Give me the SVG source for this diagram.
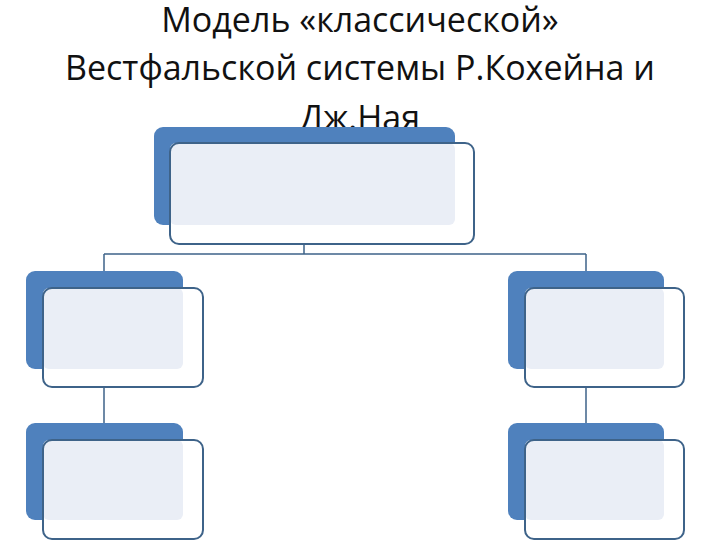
<svg xmlns="http://www.w3.org/2000/svg" width="720" height="540" viewBox="0 0 720 540">
<style>
.t{font-family:"Open Sans","Liberation Sans",sans-serif;font-size:34px;fill:#111;text-anchor:middle}
.b{fill:#4f81bd}
.f{fill:#eaeef6}
.o{fill:none;stroke:#3e6389;stroke-width:2}
.c{fill:none;stroke:#3e6389;stroke-width:1.5}
</style>
<rect width="720" height="540" fill="#fff"/>
<text class="t" x="360" y="32">Модель «классической»</text>
<text class="t" x="360" y="80">Вестфальской системы Р.Кохейна и</text>
<text class="t" x="360" y="130">Дж.Ная</text>
<g id="connectors">
<path class="c" d="M304 244V254M104 254H586M104 254V271M586 254V271M104 387V423M586 387V423"/>
</g>
<g id="top">
<rect class="b" x="154" y="127" width="301" height="98" rx="9"/>
<rect x="170" y="143" width="304" height="101" rx="9" fill="#fff"/>
<rect class="f" x="170" y="143" width="285" height="82" rx="6"/>
<rect class="o" x="170" y="143" width="304" height="101" rx="9"/>
</g>
<g id="left1">
<rect class="b" x="26" y="271" width="157" height="98" rx="9"/>
<rect x="43" y="288" width="160" height="99" rx="9" fill="#fff"/>
<rect class="f" x="43" y="288" width="140" height="81" rx="6"/>
<rect class="o" x="43" y="288" width="160" height="99" rx="9"/>
</g>
<g id="right1">
<rect class="b" x="508" y="271" width="156" height="98" rx="9"/>
<rect x="525" y="288" width="159" height="99" rx="9" fill="#fff"/>
<rect class="f" x="525" y="288" width="139" height="81" rx="6"/>
<rect class="o" x="525" y="288" width="159" height="99" rx="9"/>
</g>
<g id="left2">
<rect class="b" x="26" y="423" width="157" height="97" rx="9"/>
<rect x="43" y="440" width="160" height="99" rx="9" fill="#fff"/>
<rect class="f" x="43" y="440" width="140" height="80" rx="6"/>
<rect class="o" x="43" y="440" width="160" height="99" rx="9"/>
</g>
<g id="right2">
<rect class="b" x="508" y="423" width="156" height="97" rx="9"/>
<rect x="525" y="440" width="159" height="99" rx="9" fill="#fff"/>
<rect class="f" x="525" y="440" width="139" height="80" rx="6"/>
<rect class="o" x="525" y="440" width="159" height="99" rx="9"/>
</g>
</svg>
